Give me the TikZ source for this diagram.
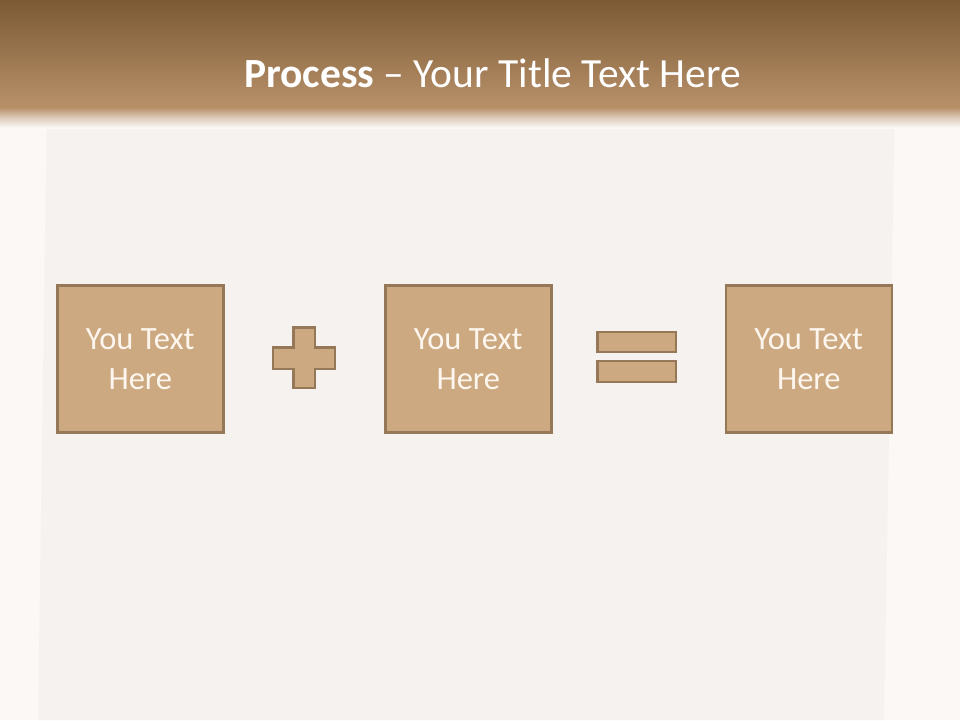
\documentclass[tikz,border=0pt]{standalone}
\usepackage{fontspec}
\setmainfont{Carlito}
\definecolor{outerbg}{HTML}{FCF8F5}
\definecolor{panelbg}{HTML}{F6F2F0}
\definecolor{hdrtop}{HTML}{7B5A35}
\definecolor{hdrbot}{HTML}{B8916A}
\definecolor{tanfill}{HTML}{CDA981}
\definecolor{tanline}{HTML}{957858}
\definecolor{boxtext}{HTML}{FDF6EE}
\tikzset{
  tanbox/.style={draw=tanline, fill=tanfill, line width=2.5pt, minimum width=166pt, minimum height=147pt, inner sep=0pt, anchor=north west, align=center, text=boxtext, font=\fontsize{32.5}{40}\selectfont},
  opbar/.style={draw=tanline, fill=tanfill, line width=2.5pt}
}
\begin{document}
\begin{tikzpicture}[x=1pt,y=-1pt]
\useasboundingbox (0,0) rectangle (960,720);
\fill[outerbg] (0,0) rectangle (960,720);
\fill[panelbg] (47,100) -- (895,100) -- (884,720) -- (38,720) -- cycle;
\shade[top color=hdrtop, bottom color=hdrbot] (0,0) rectangle (960,108);
\shade[top color=hdrbot, bottom color=white!60!panelbg, middle color=hdrbot!40!panelbg] (0,107.5) rectangle (960,128);
\node[text=white, font=\fontsize{41.5}{48}\selectfont, anchor=base] (title) at (492.5,87) {\textbf{Process} -- Your Title Text Here};
\node[tanbox] (b1) at (56,284) {You Text\\Here};
\node[tanbox] (b2) at (384,284) {You Text\\Here};
\node[tanbox] (b3) at (724.5,284) {You Text\\Here};
\draw[opbar] (293.5,327.5) -- (315,327.5) -- (315,347.5) -- (335,347.5) -- (335,369) -- (315,369) -- (315,388) -- (293.5,388) -- (293.5,369) -- (273,369) -- (273,347.5) -- (293.5,347.5) -- cycle;
\draw[opbar] (597.5,332) rectangle (676,352);
\draw[opbar] (597.5,361) rectangle (676,382);
\end{tikzpicture}
\end{document}
